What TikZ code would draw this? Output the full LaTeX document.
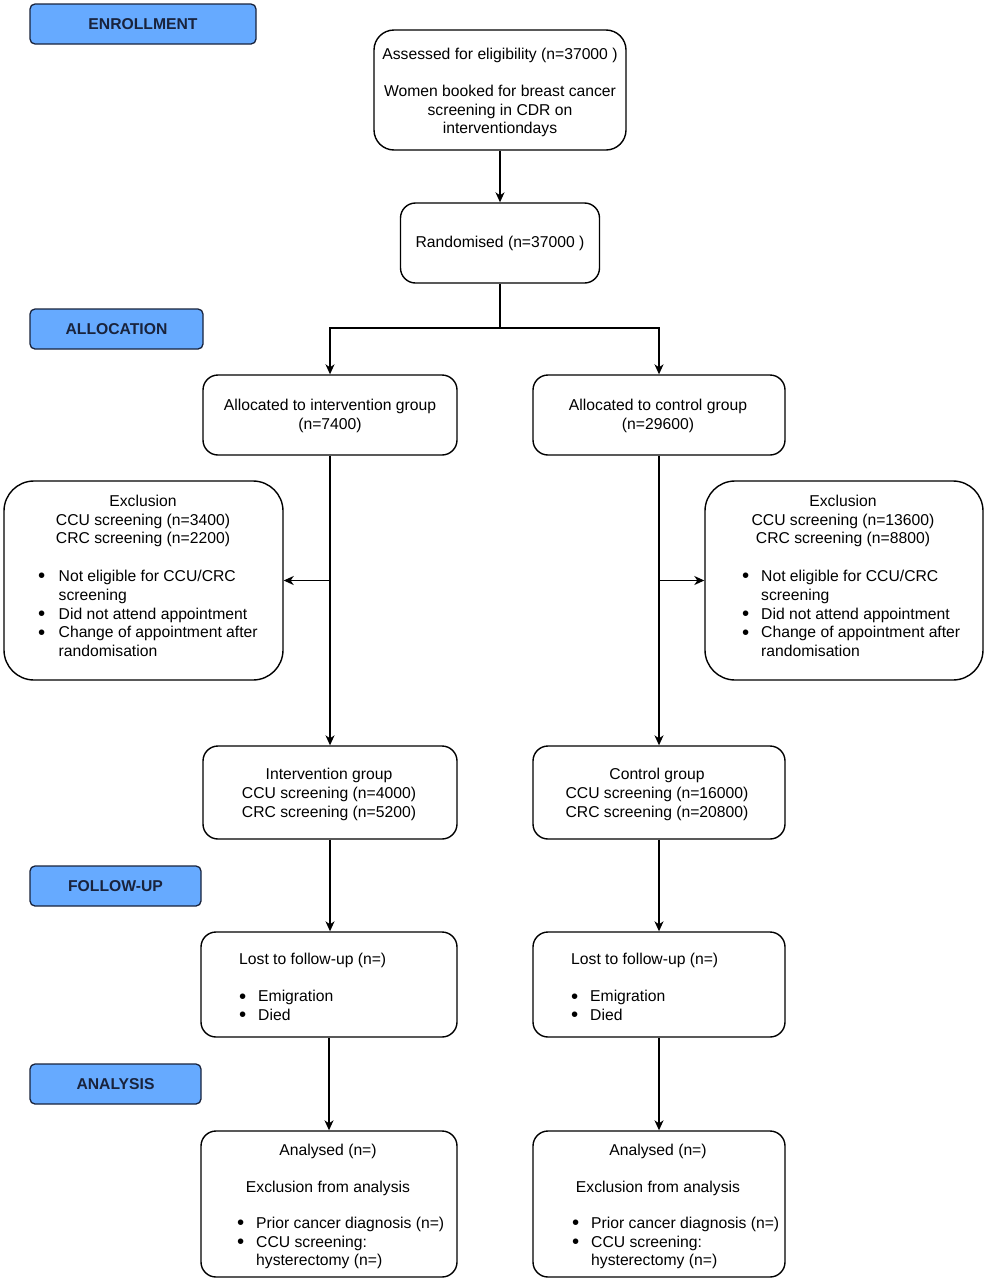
\documentclass[tikz,border=0pt]{standalone}
\usepackage{fontspec}
\setmainfont{Liberation Sans}
\usetikzlibrary{arrows.meta}
\definecolor{phasefill}{RGB}{102,170,255}
\definecolor{phaseline}{RGB}{25,35,60}
\newcommand{\bdot}{\raisebox{-1.2pt}{\scalebox{1.3}{\textbullet}}}
\newcommand{\bul}{\makebox[19pt][l]{\bdot}}
\newcommand{\bulx}{\makebox[20.5pt][l]{\bdot}}
\newcommand{\ind}{\hspace*{19pt}}
\newcommand{\indx}{\hspace*{20.5pt}}
\begin{document}
\begin{tikzpicture}[x=1pt,y=-1pt,
  every node/.style={font=\fontsize{15.7}{18.7}\selectfont},
  phase/.style={draw=phaseline, fill=phasefill, line width=1.3pt, rounded corners=5pt, inner sep=0pt, font=\fontsize{15.7}{18.7}\selectfont\bfseries, text=phaseline},
  box/.style={draw, line width=1.4pt, rounded corners=15pt, inner sep=0pt},
  bigbox/.style={box, rounded corners=30pt},
  txt/.style={inner sep=0pt, align=center},
  lst/.style={inner sep=0pt, align=left, anchor=west},
  arr/.style={line width=1.4pt, -{Stealth[length=10pt,width=9pt,inset=3pt]}},
  ln/.style={line width=1.4pt}]
\useasboundingbox (0,0) rectangle (985,1280);

% phase labels
\node[phase, minimum width=226pt, minimum height=40pt] (p1) at (143,24) {ENROLLMENT};
\node[phase, minimum width=173pt, minimum height=40pt] (p2) at (116.5,329) {ALLOCATION};
\node[phase, minimum width=171pt, minimum height=40pt] (p3) at (115.5,886) {FOLLOW-UP};
\node[phase, minimum width=171pt, minimum height=40pt] (p4) at (115.5,1084) {ANALYSIS};

% boxes
\node[box, rounded corners=20pt, minimum width=252pt, minimum height=120pt] (assess) at (500,90) {};
\node[box, minimum width=199pt, minimum height=80pt] (rand) at (500,243) {};
\node[box, minimum width=254pt, minimum height=80pt] (allocI) at (330,415) {};
\node[box, minimum width=252pt, minimum height=80pt] (allocC) at (659,415) {};
\node[bigbox, minimum width=279pt, minimum height=199pt] (excL) at (143.5,580.5) {};
\node[bigbox, minimum width=278pt, minimum height=199pt] (excR) at (844,580.5) {};
\node[box, minimum width=254pt, minimum height=93pt] (grpI) at (330,792.5) {};
\node[box, minimum width=252pt, minimum height=93pt] (grpC) at (659,792.5) {};
\node[box, minimum width=256pt, minimum height=105pt] (lostL) at (329,984.5) {};
\node[box, minimum width=252pt, minimum height=105pt] (lostR) at (659,984.5) {};
\node[box, minimum width=256pt, minimum height=146pt] (anaL) at (329,1204) {};
\node[box, minimum width=252pt, minimum height=146pt] (anaR) at (659,1204) {};

% texts
\node[txt] (assessT) at (500,92.5) {Assessed for eligibility (n=37000 )\\[18.7pt]Women booked for breast cancer\\screening in CDR on\\interventiondays};
\node[txt] (randT) at (500,243.5) {Randomised (n=37000 )};
\node[txt] (allocIT) at (330,416) {Allocated to intervention group\\(n=7400)};
\node[txt] (allocCT) at (658,416) {Allocated to control group\\(n=29600)};
\node[txt] (excLH) at (143,521) {Exclusion\\CCU screening (n=3400)\\CRC screening (n=2200)};
\node[lst] (excLL) at (38,613.5) {\bulx Not eligible for CCU/CRC\\\indx screening\\\bulx Did not attend appointment\\\bulx Change of appointment after\\\indx randomisation};
\node[txt] (excRH) at (843,521) {Exclusion\\CCU screening (n=13600)\\CRC screening (n=8800)};
\node[lst] (excRL) at (742,613.5) {\bul Not eligible for CCU/CRC\\\ind screening\\\bul Did not attend appointment\\\bul Change of appointment after\\\ind randomisation};
\node[txt] (grpIT) at (329,794.5) {Intervention group\\CCU screening (n=4000)\\CRC screening (n=5200)};
\node[txt] (grpCT) at (657,794.5) {Control group\\CCU screening (n=16000)\\CRC screening (n=20800)};
\node[lst] (lostLT) at (239,987.5) {Lost to follow-up (n=)\\[18.7pt]\bul Emigration\\\bul Died};
\node[lst] (lostRT) at (571,987.5) {Lost to follow-up (n=)\\[18.7pt]\bul Emigration\\\bul Died};
\node[txt] (anaLH) at (328,1170) {Analysed (n=)\\[18.7pt]Exclusion from analysis};
\node[lst] (anaLL) at (237,1243) {\bul Prior cancer diagnosis (n=)\\\bul CCU screening:\\\ind hysterectomy (n=)};
\node[txt] (anaRH) at (658,1170) {Analysed (n=)\\[18.7pt]Exclusion from analysis};
\node[lst] (anaRL) at (572,1243) {\bul Prior cancer diagnosis (n=)\\\bul CCU screening:\\\ind hysterectomy (n=)};

% connectors
\coordinate (split) at (500,328);
\coordinate (bL) at (330,580.5);
\coordinate (bR) at (659,580.5);
\draw[arr] (assess.south) -- (rand.north);
\draw[ln] (rand.south) -- (split);
\draw[arr] (split) -| (allocI.north);
\draw[arr] (split) -| (allocC.north);
\draw[arr] (allocI.south) -- (grpI.north);
\draw[arr] (allocC.south) -- (grpC.north);
\draw[arr] (bL) -- (excL.east);
\draw[arr] (bR) -- (excR.west);
\draw[arr] (grpI.south) -- (grpI.south |- lostL.north);
\draw[arr] (grpC.south) -- (lostR.north);
\draw[arr] (lostL.south) -- (anaL.north);
\draw[arr] (lostR.south) -- (anaR.north);
\end{tikzpicture}
\end{document}
